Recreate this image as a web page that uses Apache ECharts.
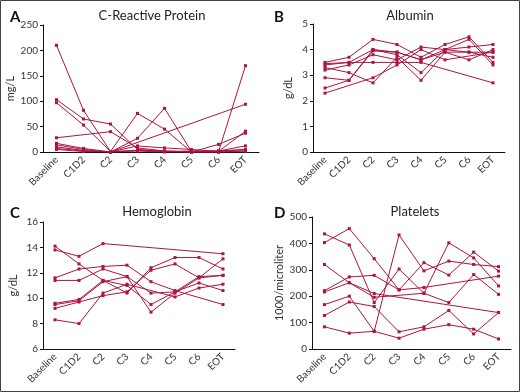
<!DOCTYPE html>
<html>
<head>
<meta charset="utf-8">
<script src="https://cdn.jsdelivr.net/npm/echarts@6/dist/echarts.min.js"></script>
<style>
  html, body { margin: 0; padding: 0; background: #fff; }
  #chart { width: 520px; height: 392px; }
</style>
</head>
<body>
<div id="chart"></div>
<script>
const visits = ['Baseline', 'C1D2', 'C2', 'C3', 'C4', 'C5', 'C6', 'EOT']

// C-reactive protein, mg/L, one row per patient
const crp = [
  [210, 82, 1, 3, 1, 0, 0, 170],
  [103, 65, 55, 5, 2, 1, 2, 12],
  [97, 53, 1, 76, 45, 0, 15, 37],
  [28, null, 40, 8, 2, 0, 2, 5],
  [17, 7, 0, 27, 86, 1, 0, 2],
  [14, 5, 0, null, null, null, null, 94],
  [10, 3, 0, 12, 8, 5, 1, 41],
  [7, 2, 0, 3, 1, 0, 0, 2],
  [5, 1, 0, 2, 0, 2, 1, 5]
]

// albumin, g/dL
const albumin = [
  [3.5, 3.7, 4.4, 4.2, 3.7, 4.2, 4.5, 3.5],
  [3.4, 3.5, 4.0, 3.9, 3.6, 4.0, 4.4, 3.4],
  [3.3, 3.1, 2.7, 3.7, 2.8, 3.9, 3.6, 4.0],
  [3.2, 3.4, 3.8, 3.6, 4.1, 4.0, 3.9, 3.9],
  [2.9, 2.8, 4.0, 3.8, 3.1, 4.0, 4.1, 4.2],
  [2.5, 2.8, 3.95, 3.9, 3.6, 3.9, 3.9, 3.7],
  [2.3, null, 2.9, 3.4, 4.0, 3.6, null, 3.9],
  [3.45, 3.5, 3.5, 3.5, 3.5, null, null, 2.7]
]

// hemoglobin, g/dL
const hemoglobin = [
  [13.8, 13.3, 14.3, null, null, null, null, 13.5],
  [14.1, 12.7, 11.4, 10.4, 12.4, 13.2, 13.2, 12.3],
  [11.6, 12.3, 12.5, 12.6, 11.3, 10.6, null, 9.5],
  [11.4, 11.4, 12.3, 11.7, 10.4, 10.5, 11.2, 10.6],
  [9.6, 9.9, 11.4, 11.0, 9.5, 10.5, 11.7, 11.8],
  [9.5, 9.8, 11.3, 11.7, 8.9, 10.4, 11.6, 11.8],
  [9.2, 9.7, 10.2, 10.5, 12.2, 12.7, 11.6, 13.1],
  [8.3, 8.0, 10.4, 11.1, null, 10.1, 10.8, 11.1]
]

// platelets, 1000/microliter
const platelets = [
  [403, 456, 342, 224, 327, 280, 367, 295],
  [436, 394, 176, 303, 211, 402, 345, 239],
  [320, 251, 210, null, null, null, null, 138],
  [221, 273, 279, 224, 233, null, null, 276],
  [216, 251, 196, null, 211, 176, 282, 207],
  [168, 200, 67, 432, 296, 333, 320, 312],
  [127, 178, 161, 65, 84, 146, 57, 138],
  [84, 60, 67, 41, 75, 92, 75, 38]
]

const panels = [
  { letter: 'A', title: 'C-Reactive Protein', unit: 'mg/L', data: crp, max: 250, interval: 50, min: 0,
    grid: { left: 43, top: 25, width: 216, height: 127 }, nameGap: 27, titleX: 147 },
  { letter: 'B', title: 'Albumin', unit: 'g/dL', data: albumin, max: 5, interval: 1, min: 0,
    grid: { left: 313, top: 24, width: 192, height: 128 }, nameGap: 19, titleX: 405 },
  { letter: 'C', title: 'Hemoglobin', unit: 'g/dL', data: hemoglobin, max: 16, interval: 2, min: 6,
    grid: { left: 43, top: 222, width: 192, height: 127 }, nameGap: 24, titleX: 152 },
  { letter: 'D', title: 'Platelets', unit: '1000/microliter', data: platelets, max: 500, interval: 100, min: 0,
    grid: { left: 312, top: 217, width: 199, height: 132 }, nameGap: 27, titleX: 410 }
]

const red = '#ad1440'
const font = 'Lato, "Open Sans", sans-serif'
const chart = echarts.init(document.getElementById('chart'), null, { renderer: 'canvas' })

const titles = []
const grids = []
const xAxes = []
const yAxes = []
const series = []

panels.forEach((p, i) => {
  const g = p.grid
  const rowTop = i < 2 ? 4 : 200
  grids.push(g)
  titles.push({
    text: p.title,
    left: p.titleX,
    top: rowTop,
    textAlign: 'center',
    textStyle: { fontFamily: font, fontSize: 13, fontWeight: 'normal', color: '#222' }
  })
  titles.push({
    text: p.letter,
    left: i % 2 === 0 ? 5 : 269,
    top: rowTop + 1,
    textStyle: { fontFamily: font, fontSize: 15, fontWeight: 'bold', color: '#111' }
  })
  xAxes.push({
    type: 'category',
    gridIndex: i,
    data: visits,
    boundaryGap: true,
    axisLine: { lineStyle: { color: '#111', width: 1 } },
    axisTick: { alignWithLabel: true, length: 3, lineStyle: { color: '#111' } },
    axisLabel: { rotate: 45, fontFamily: font, fontSize: 10, color: '#333', margin: 6, interval: 0 }
  })
  yAxes.push({
    type: 'value',
    gridIndex: i,
    min: p.min,
    max: p.max,
    interval: p.interval,
    name: p.unit,
    nameLocation: 'middle',
    nameGap: p.nameGap,
    nameTextStyle: { fontFamily: font, fontSize: 11, color: '#333' },
    splitLine: { show: false },
    axisLine: { show: true, lineStyle: { color: '#111', width: 1 } },
    axisTick: { show: true, length: 3, lineStyle: { color: '#111' } },
    axisLabel: { fontFamily: font, fontSize: 10, color: '#333', margin: 5 }
  })
  p.data.forEach(row => {
    series.push({
      type: 'line',
      xAxisIndex: i,
      yAxisIndex: i,
      data: row,
      connectNulls: true,
      symbol: 'rect',
      symbolSize: 3,
      itemStyle: { color: red },
      lineStyle: { color: red, width: 1 },
      animation: false
    })
  })
})

const options = {
  animation: false,
  title: titles,
  grid: grids,
  xAxis: xAxes,
  yAxis: yAxes,
  series: series,
  graphic: [{
    type: 'rect',
    shape: { x: 0.5, y: 0.5, width: 519, height: 391 },
    style: { fill: 'none', stroke: '#444', lineWidth: 1 },
    silent: true
  }]
}

chart.setOption(options)
</script>
</body>
</html>
